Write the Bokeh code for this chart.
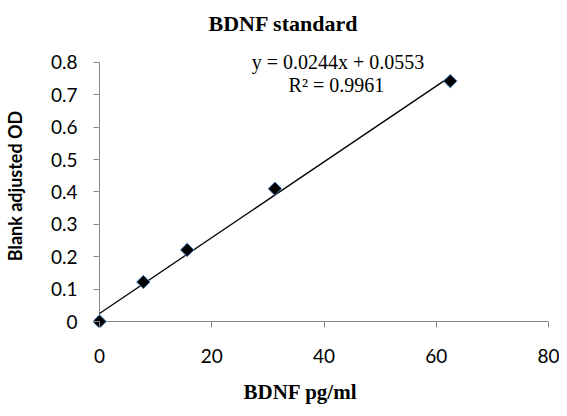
import numpy as np
from bokeh.plotting import figure
from bokeh.models import Range1d, FixedTicker, Label, Title
from bokeh.embed import file_html
from bokeh.resources import INLINE

# ---- data ----
title_text = "BDNF standard"
x_title = "BDNF pg/ml"
y_title = "Blank adjusted OD"
conc = [0, 7.8125, 15.625, 31.25, 62.5]          # BDNF pg/ml
od = [0, 0.122, 0.221, 0.41, 0.742]               # blank adjusted OD
x_ticks = [0, 20, 40, 60, 80]
x_tick_labels = ["0", "20", "40", "60", "80"]
y_ticks = [0, 0.1, 0.2, 0.3, 0.4, 0.5, 0.6, 0.7, 0.8]
y_tick_labels = ["0", "0.1", "0.2", "0.3", "0.4", "0.5", "0.6", "0.7", "0.8"]
eq_text = "y = 0.0244x + 0.0553"
r2_text = "R\u00b2 = 0.9961"

# linear trendline fitted to the points
slope, intercept = np.polyfit(conc, od, 1)
fit_x = [min(conc), max(conc)]
fit_y = [slope * v + intercept for v in fit_x]

AXIS_GRAY = "#898989"

p = figure(frame_width=455, frame_height=283,
           x_range=Range1d(-1.07, 80), y_range=Range1d(-0.0185, 0.855),
           output_backend="svg", toolbar_location=None,
           min_border_left=85, min_border_right=11,
           min_border_top=37, min_border_bottom=80)

p.title.text = title_text
p.title.text_font = "Liberation Serif"
p.title.text_font_size = "22px"
p.title.text_font_style = "bold"
p.title.text_color = "black"
p.title.align = "left"
p.title.offset = 115
p.title.standoff = 17

p.xgrid.visible = False
p.ygrid.visible = False
p.outline_line_color = None
p.background_fill_color = "white"
p.border_fill_color = "white"

xa = p.xaxis[0]
xa.bounds = (x_ticks[0], x_ticks[-1])
xa.ticker = FixedTicker(ticks=x_ticks, minor_ticks=[])
xa.major_label_overrides = dict(zip(x_ticks, x_tick_labels))
xa.axis_line_color = None
xa.major_tick_line_color = AXIS_GRAY
xa.major_tick_out = 0
xa.major_tick_in = 6
xa.minor_tick_out = 0
xa.minor_tick_in = 0
xa.minor_tick_line_color = None
xa.major_label_text_font = "Lato"
xa.major_label_text_font_size = "19px"
xa.major_label_text_color = "black"
xa.major_label_standoff = 21

ya = p.yaxis[0]
ya.bounds = (y_ticks[0], y_ticks[-1])
ya.ticker = FixedTicker(ticks=y_ticks, minor_ticks=[])
ya.major_label_overrides = dict(zip(y_ticks, y_tick_labels))
ya.axis_line_color = None
ya.major_tick_line_color = AXIS_GRAY
ya.major_tick_out = 0
ya.major_tick_in = 6
ya.minor_tick_out = 0
ya.minor_tick_in = 0
ya.minor_tick_line_color = None
ya.major_label_text_font = "Lato"
ya.major_label_text_font_size = "19px"
ya.major_label_text_color = "black"
ya.major_label_standoff = 16
ya.axis_label = y_title
ya.axis_label_text_font = "Lato"
ya.axis_label_text_font_size = "18px"
ya.axis_label_text_font_style = "bold"
ya.axis_label_text_color = "black"
ya.axis_label_standoff = 22

# axis lines through the origin
p.line([x_ticks[0], x_ticks[-1]], [y_ticks[0], y_ticks[0]], line_color=AXIS_GRAY, line_width=1)
p.line([x_ticks[0], x_ticks[0]], [y_ticks[0], y_ticks[-1]], line_color=AXIS_GRAY, line_width=1)

p.line(fit_x, fit_y, line_color="black", line_width=1.3)
p.scatter(conc, od, marker="square", angle=np.pi / 4, size=9.5,
          fill_color="black", line_color="#4A7EBB", line_width=1)

p.add_layout(Label(x=42.5, y=0.7995, text=eq_text, text_align="center",
                   text_baseline="alphabetic", text_font="Liberation Serif",
                   text_font_size="20px", text_color="black"))
p.add_layout(Label(x=42.2, y=0.7314, text=r2_text, text_align="center",
                   text_baseline="alphabetic", text_font="Liberation Serif",
                   text_font_size="20px", text_color="black"))

p.add_layout(Title(text=x_title, align="left", offset=150, vertical_align="top",
                   standoff=29,
                   text_font="Liberation Serif", text_font_size="21px",
                   text_font_style="bold", text_color="black"), "below")

open("out.html", "w").write(file_html(p, INLINE))
